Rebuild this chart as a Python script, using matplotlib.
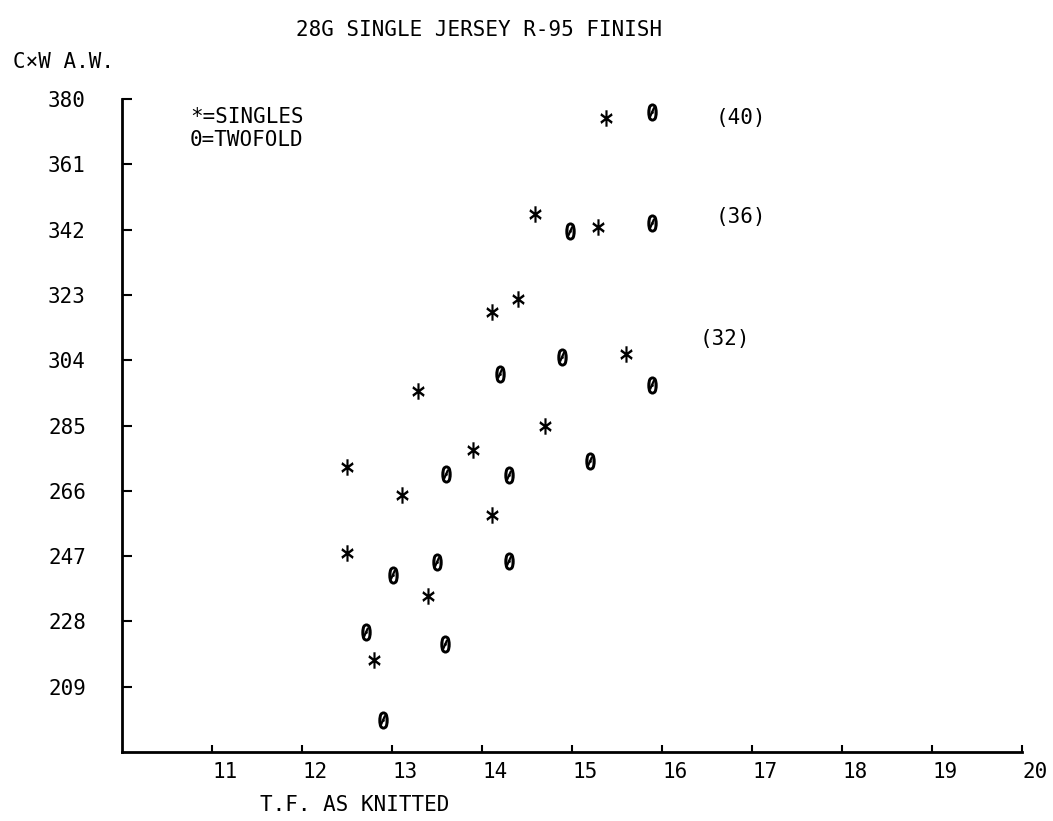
import numpy as np
import matplotlib
matplotlib.use("Agg")
import matplotlib.pyplot as plt
from matplotlib.textpath import TextPath
from matplotlib.font_manager import FontProperties
from matplotlib.path import Path

# fabric weight vs tightness factor, 28G single jersey
singles_tf = [15.38, 14.59, 15.29, 14.40, 14.11, 15.60, 13.29, 14.70,
              13.90, 12.50, 13.11, 14.11, 12.50, 13.40, 12.80]
singles_aw = [374.5, 346.4, 342.9, 321.8, 318.0, 305.9, 294.9, 285.0,
              277.8, 272.8, 264.7, 258.9, 247.9, 235.5, 216.7]

twofold_tf = [15.89, 14.98, 15.89, 14.89, 14.20, 15.89, 15.20, 13.60,
              14.30, 13.50, 14.30, 13.01, 12.71, 13.59, 12.90]
twofold_aw = [376.2, 341.5, 343.8, 305.0, 300.1, 296.9, 274.6, 270.8,
              270.5, 245.3, 245.6, 241.6, 224.8, 221.3, 199.3]

count_labels = ["(40)", "(36)", "(32)"]
count_tf = [16.59, 16.59, 16.42]
count_aw = [374.5, 345.8, 310.1]

x_ticks = [11, 12, 13, 14, 15, 16, 17, 18, 19, 20]
y_ticks = [209, 228, 247, 266, 285, 304, 323, 342, 361, 380]

MONO = "DejaVu Sans Mono"
FS = 15


def glyph_marker(ch, xscale=1.0):
    # glyph outline centred on the origin so scatter puts it right on the point
    tp = TextPath((0, 0), ch, prop=FontProperties(family=MONO, weight="bold"))
    verts = tp.vertices.copy()
    codes = tp.codes.copy()
    real = codes != Path.CLOSEPOLY
    x0, y0 = verts[real].min(axis=0)
    x1, y1 = verts[real].max(axis=0)
    verts -= [(x0 + x1) / 2, (y0 + y1) / 2]
    verts[~real] = 0.0
    verts[:, 0] *= xscale
    return Path(verts, codes)


# short diagonal stroke for the plotter style slashed zero
slash = Path([(-0.45, -1.0), (0.45, 1.0)], [Path.MOVETO, Path.LINETO])

fig = plt.figure(figsize=(10.53, 8.21), dpi=100)
ax = fig.add_axes([0.1159, 0.0840, 0.8547, 0.7954])

ax.scatter(singles_tf, singles_aw, marker=glyph_marker("*", xscale=0.72),
           s=140, color="black", linewidths=0)
ax.scatter(twofold_tf, twofold_aw, marker=glyph_marker("0", xscale=0.9),
           s=170, color="black", linewidths=0)
ax.scatter(twofold_tf, twofold_aw, marker=slash, s=45,
           facecolors="none", edgecolors="black", linewidths=1.6)

for lab, x, y in zip(count_labels, count_tf, count_aw):
    ax.text(x, y, lab, family=MONO, fontsize=FS, ha="left", va="center")

ax.set_xlim(10, 20)
ax.set_ylim(190, 380)
ax.set_xticks(x_ticks)
ax.set_yticks(y_ticks)
ax.set_xticklabels([str(t) for t in x_ticks], family=MONO, fontsize=FS, ha="left")
ax.set_yticklabels([str(t) for t in y_ticks], family=MONO, fontsize=FS)
ax.tick_params(axis="x", direction="in", length=5, width=1.5, pad=7)
ax.tick_params(axis="y", direction="in", length=7, width=1.5, pad=26)

for side in ["top", "right"]:
    ax.spines[side].set_visible(False)
for side in ["left", "bottom"]:
    ax.spines[side].set_linewidth(2)

ax.text(0.0756, 0.988, "*=SINGLES\n0=TWOFOLD", transform=ax.transAxes,
        family=MONO, fontsize=FS, ha="left", va="top", linespacing=1.2)

fig.text(0.455, 0.963, "28G SINGLE JERSEY R-95 FINISH", family=MONO,
         fontsize=FS, ha="center", va="center")
fig.text(0.012, 0.925, "C×W A.W.", family=MONO, fontsize=FS,
         ha="left", va="center")
fig.text(0.247, 0.0195, "T.F. AS KNITTED", family=MONO, fontsize=FS,
         ha="left", va="center")

fig.savefig("out.png", dpi=100)
